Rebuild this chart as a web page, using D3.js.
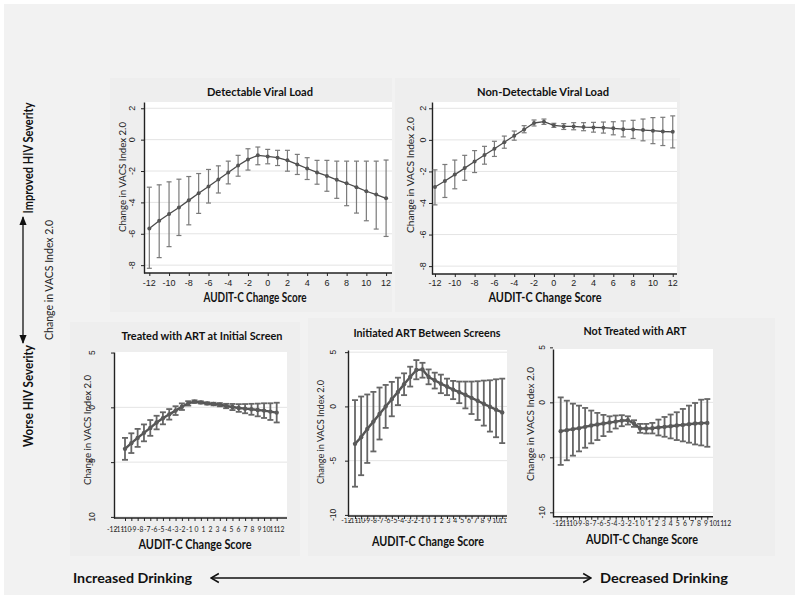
<!DOCTYPE html>
<html><head><meta charset="utf-8">
<script src="https://cdn.jsdelivr.net/npm/d3@7"></script>
<style>body{margin:0;background:#fff}svg{display:block}</style>
</head><body>
<svg id="c" width="800" height="603"></svg>
<script>
// ---------- DATA ----------
const scores = [-12,-11,-10,-9,-8,-7,-6,-5,-4,-3,-2,-1,0,1,2,3,4,5,6,7,8,9,10,11,12];
const topXTicks = [-12,-10,-8,-6,-4,-2,0,2,4,6,8,10,12];
const topYTicks = [2,0,-2,-4,-6,-8];
const bottomYTicks = [5,0,-5,-10];
const bottomYLabelsA = ["5","0","-5","10"];
const bottomYLabelsB = ["5","0","-5","-10"];
const bottomXLabels = ["-12","-11","-10","-9","-8","-7","-6","-5","-4","-3","-2","-1","0","1","2","3","4","5","6","7","8","9","10","11","12"];

// Detectable Viral Load
const detEst = [-5.66,-5.17,-4.74,-4.32,-3.87,-3.42,-2.99,-2.54,-2.09,-1.65,-1.26,-1.00,-1.07,-1.15,-1.32,-1.58,-1.84,-2.09,-2.31,-2.56,-2.78,-3.03,-3.29,-3.50,-3.74];
const detHi  = [-3.03,-2.88,-2.69,-2.52,-2.35,-2.16,-1.90,-1.67,-1.37,-1.00,-0.58,-0.47,-0.62,-0.68,-0.68,-0.94,-1.15,-1.32,-1.32,-1.37,-1.37,-1.37,-1.37,-1.37,-1.30];
const detLo  = [-8.20,-7.52,-6.82,-6.11,-5.43,-4.70,-4.04,-3.40,-2.82,-2.33,-1.94,-1.60,-1.54,-1.65,-2.01,-2.22,-2.54,-2.84,-3.29,-3.74,-4.21,-4.68,-5.17,-5.70,-6.17];
// Non-Detectable Viral Load
const ndEst = [-2.99,-2.61,-2.20,-1.79,-1.37,-0.96,-0.56,-0.15,0.26,0.66,1.07,1.15,0.92,0.85,0.85,0.81,0.79,0.77,0.73,0.68,0.66,0.62,0.58,0.53,0.51];
const ndHi  = [-1.90,-1.56,-1.28,-0.98,-0.68,-0.41,-0.09,0.24,0.56,0.90,1.26,1.32,1.05,1.03,1.09,1.09,1.11,1.13,1.15,1.20,1.24,1.32,1.41,1.43,1.52];
const ndLo  = [-4.12,-3.65,-3.10,-2.56,-2.07,-1.54,-1.05,-0.53,-0.02,0.45,0.88,0.98,0.79,0.66,0.64,0.58,0.49,0.43,0.32,0.19,0.09,-0.06,-0.24,-0.36,-0.51];
// Treated with ART at Initial Screen
const trEst = [-3.79,-3.27,-2.79,-2.33,-1.88,-1.39,-1.00,-0.64,-0.30,0.06,0.36,0.52,0.45,0.36,0.30,0.24,0.12,0.03,-0.06,-0.12,-0.18,-0.24,-0.30,-0.39,-0.48];
const trHi  = [-2.79,-2.37,-1.97,-1.56,-1.16,-0.77,-0.45,-0.16,0.10,0.36,0.56,0.64,0.55,0.46,0.42,0.39,0.32,0.31,0.29,0.30,0.32,0.34,0.37,0.37,0.42];
const trLo  = [-4.79,-4.17,-3.61,-3.10,-2.60,-2.01,-1.55,-1.12,-0.70,-0.24,0.16,0.40,0.35,0.26,0.18,0.09,-0.08,-0.25,-0.41,-0.54,-0.68,-0.82,-0.97,-1.15,-1.38];
// Initiated ART Between Screens
const inEst = [-3.45,-2.84,-2.07,-1.40,-0.70,0.00,0.67,1.34,2.04,2.71,3.35,3.41,2.71,2.41,2.10,1.83,1.55,1.31,1.07,0.79,0.52,0.24,-0.03,-0.30,-0.55];
const inHi  = [0.58,0.91,1.10,1.34,1.74,1.98,2.26,2.65,3.05,3.66,4.27,4.02,3.41,3.11,2.93,2.56,2.35,2.29,2.29,2.29,2.32,2.38,2.41,2.50,2.56];
const inLo  = [-7.40,-6.34,-5.21,-4.15,-3.05,-1.98,-0.91,0.12,1.04,1.83,2.50,2.65,2.04,1.65,1.22,1.04,0.67,0.30,-0.18,-0.70,-1.25,-1.77,-2.32,-2.84,-3.38];
// Not Treated with ART
const ntEst = [-2.62,-2.53,-2.44,-2.35,-2.23,-2.11,-2.02,-1.93,-1.84,-1.75,-1.66,-1.63,-1.93,-2.38,-2.38,-2.35,-2.29,-2.23,-2.17,-2.11,-2.05,-1.99,-1.93,-1.90,-1.87];
const ntHi  = [0.45,0.15,-0.12,-0.30,-0.51,-0.75,-0.96,-1.14,-1.27,-1.20,-1.17,-1.27,-1.63,-1.96,-1.96,-1.87,-1.57,-1.33,-1.11,-0.90,-0.60,-0.30,-0.06,0.24,0.30];
const ntLo  = [-5.69,-5.27,-4.85,-4.46,-4.13,-3.73,-3.43,-3.07,-2.68,-2.38,-2.17,-2.02,-2.23,-2.77,-2.83,-2.83,-3.01,-3.13,-3.28,-3.43,-3.55,-3.67,-3.83,-3.92,-4.04];

const yTitle = "Change in VACS Index 2.0";
const xTitle = "AUDIT-C Change Score";

// ---------- LAYOUT ----------
const F = "Lato, 'Open Sans', sans-serif";
const panels = [
  {kind:"top", title:"Detectable Viral Load", est:detEst, lo:detLo, hi:detHi,
   bg:[110,78,282,234], plot:[144,102,392,273], xDom:[-12.54,12.6], yDom:[-8.5,2.4],
   title_xy:[260,91,106], axt_xy:[255,297,103], ylab_xy:[122,177,110], tickX:132, tickLabY:283},
  {kind:"top", title:"Non-Detectable Viral Load", est:ndEst, lo:ndLo, hi:ndHi,
   bg:[395,78,285,234], plot:[432,102,677,274], xDom:[-12.3,12.43], yDom:[-8.5,2.4],
   title_xy:[543,91,132], axt_xy:[545,297,113], ylab_xy:[410,175,116], tickX:423, tickLabY:283},
  {kind:"bot", title:"Treated with ART at Initial Screen", est:trEst, lo:trLo, hi:trHi, ylabels:bottomYLabelsA,
   bg:[70,322,230,234], plot:[114,352,287,518], xPts:[125,276.7], xLab:[111.7,280], clip:null, yDom:[-10.1,5.05],
   title_xy:[202,335,161], axt_xy:[195,544,113], ylab_xy:[87,430,110], tickX:92, tickLabY:531},
  {kind:"bot", title:"Initiated ART Between Screens", est:inEst, lo:inLo, hi:inHi, ylabels:bottomYLabelsB,
   bg:[308,318,199,238], plot:[348,350,507,516], xPts:[355,502.2], xLab:[346,509.2], clip:507, yDom:[-10.1,5.2],
   title_xy:[427,332,147], axt_xy:[428,541,112], ylab_xy:[320,432,104], tickX:333, tickLabY:522},
  {kind:"bot", title:"Not Treated with ART", est:ntEst, lo:ntLo, hi:ntHi, ylabels:bottomYLabelsB,
   bg:[507,318,268,238], plot:[553,349,713,516.7], xPts:[560.7,707.3], xLab:[557.3,726.7], clip:null, yDom:[-10.4,4.85],
   title_xy:[635,330,103], axt_xy:[642,539,112], ylab_xy:[530,424,114], tickX:542, tickLabY:525}
];

const svg = d3.select("#c");
svg.append("rect").attr("x",4).attr("y",4).attr("width",791).attr("height",591).attr("fill","#f2f2f2");
const defs = svg.append("defs");

function txt(g, s, x, y, opts) {
  const t = g.append("text").attr("x",x).attr("y",y).text(s)
    .attr("font-family", opts.family || F).attr("font-size", opts.size)
    .attr("font-weight", opts.weight || "normal").attr("fill", opts.fill || "#111")
    .attr("text-anchor", opts.anchor || "middle").attr("dominant-baseline","central");
  if (opts.rot) t.attr("transform", `rotate(${opts.rot},${x},${y})`);
  if (opts.len) t.attr("textLength", opts.len).attr("lengthAdjust","spacingAndGlyphs");
  return t;
}

panels.forEach((p, pi) => {
  const g = svg.append("g");
  const [bx,by,bw,bh] = p.bg;
  g.append("rect").attr("x",bx).attr("y",by).attr("width",bw).attr("height",bh).attr("fill","#eeeeee");
  const [x0,y0,x1,y1] = p.plot;
  g.append("rect").attr("x",x0).attr("y",y0).attr("width",x1-x0).attr("height",y1-y0).attr("fill","#fff");

  const y = d3.scaleLinear().domain(p.yDom).range([y1,y0]);
  const x = p.kind === "top"
    ? d3.scaleLinear().domain(p.xDom).range([x0,x1])
    : d3.scaleLinear().domain([scores[0], scores[scores.length-1]]).range(p.xPts);
  const yt = p.kind === "top" ? topYTicks : bottomYTicks;
  // gridlines
  g.append("g").selectAll("line").data(yt.filter(v => y(v) > y0+1 && y(v) < y1-1)).join("line")
    .attr("x1",x0).attr("x2",x1).attr("y1",d=>y(d)).attr("y2",d=>y(d))
    .attr("stroke","#e4e4e4").attr("stroke-width",1);

  // y axis
  const ya = g.append("g").attr("transform",`translate(${x0},0)`)
    .call(d3.axisLeft(y).tickValues(yt).tickSize(3).tickSizeOuter(0).tickFormat(""));
  ya.select(".domain").attr("stroke","#222").attr("stroke-width",1.4);
  ya.selectAll(".tick line").attr("stroke","#222");
  // x axis
  const xa = g.append("g").attr("transform",`translate(0,${y1})`)
    .call(d3.axisBottom(x).tickValues(p.kind==="top" ? topXTicks : scores).tickSize(3).tickSizeOuter(0).tickFormat(""));
  xa.select(".domain").attr("stroke","#222").attr("stroke-width",1.4)
    .attr("d", `M${x0},0H${x1}`);
  xa.selectAll(".tick line").attr("stroke","#222");

  // y tick labels (rotated)
  yt.forEach((v,i) => {
    const lab = p.kind === "top" ? String(v) : p.ylabels[i];
    txt(g, lab, p.tickX, y(v), {size: p.kind==="top"?9:8.5, family:"'Liberation Sans', Arial, sans-serif", rot:-90, fill:"#222"});
  });
  // x tick labels
  if (p.kind === "top") {
    topXTicks.forEach(v => txt(g, String(v), x(v), p.tickLabY, {size:9, family:"'Liberation Sans', Arial, sans-serif", fill:"#222"}));
  } else {
    const xl = d3.scaleLinear().domain([scores[0], scores[scores.length-1]]).range(p.xLab);
    const la = g.append("g").attr("transform",`translate(0,${p.tickLabY-4})`)
      .call(d3.axisBottom(xl).tickValues(scores).tickSize(0).tickPadding(0).tickFormat((d,i)=>bottomXLabels[i]));
    la.select(".domain").remove();
    la.selectAll("text").attr("font-family",F).attr("font-size",6.8).attr("fill","#222");
    if (p.clip) {
      const id = "clip" + pi;
      defs.append("clipPath").attr("id", id).append("rect")
        .attr("x", bx).attr("y", 0).attr("width", p.clip - bx).attr("height", 603);
      la.attr("clip-path", `url(#${id})`);
    }
  }

  // titles
  txt(g, p.title, p.title_xy[0], p.title_xy[1], {size:11, weight:"bold", len:p.title_xy[2]});
  txt(g, xTitle, p.axt_xy[0], p.axt_xy[1], {size:12.5, weight:"bold", len:p.axt_xy[2]});
  txt(g, yTitle, p.ylab_xy[0], p.ylab_xy[1], {size:10, rot:-90, len:p.ylab_xy[2], fill:"#222"});

  // error bars
  const isTop = p.kind === "top";
  const cap = isTop ? 2.5 : 3;
  const ebCol = isTop ? "#7a7a7a" : "#666";
  const ebW = isTop ? 1.2 : 1.8;
  const eb = g.append("g").attr("stroke",ebCol).attr("stroke-width",ebW).attr("fill","none");
  scores.forEach((s,i) => {
    const cx = x(s), yh = y(p.hi[i]), ylo = y(p.lo[i]);
    eb.append("line").attr("x1",cx).attr("x2",cx).attr("y1",yh).attr("y2",ylo);
    eb.append("line").attr("x1",cx-cap).attr("x2",cx+cap).attr("y1",yh).attr("y2",yh);
    eb.append("line").attr("x1",cx-cap).attr("x2",cx+cap).attr("y1",ylo).attr("y2",ylo);
  });
  // line
  const line = d3.line().x((d,i)=>x(scores[i])).y(d=>y(d));
  g.append("path").datum(p.est).attr("d",line).attr("fill","none")
    .attr("stroke", isTop ? "#4a4a4a" : "#555").attr("stroke-width", isTop ? 1.3 : 2.4);
  g.append("g").selectAll("circle").data(p.est).join("circle")
    .attr("cx",(d,i)=>x(scores[i])).attr("cy",d=>y(d)).attr("r", isTop ? 2 : 2.2)
    .attr("fill", isTop ? "#555" : "#5a5a5a");
});

// ---------- outer annotations ----------
txt(svg, "Improved HIV Severity", 28, 158, {size:13.5, weight:"bold", rot:-90, len:111});
txt(svg, "Worse HIV  Severity", 28, 396, {size:13.5, weight:"bold", rot:-90, len:102});
txt(svg, "Change in  VACS Index  2.0", 48, 280, {size:11, rot:-90, len:120, fill:"#222"});
txt(svg, "Increased Drinking", 132.5, 578, {size:13.5, weight:"bold", len:119});
txt(svg, "Decreased Drinking", 664, 578, {size:13.5, weight:"bold", len:128});

defs.append("marker").attr("id","tri").attr("viewBox","0 0 10 10").attr("refX",9).attr("refY",5)
  .attr("markerWidth",7).attr("markerHeight",7).attr("orient","auto-start-reverse")
  .append("path").attr("d","M0,1L10,5L0,9Z").attr("fill","#111");
defs.append("marker").attr("id","chev").attr("viewBox","0 0 10 10").attr("refX",9).attr("refY",5)
  .attr("markerWidth",8).attr("markerHeight",8).attr("orient","auto-start-reverse")
  .append("path").attr("d","M2,1L9,5L2,9").attr("fill","none").attr("stroke","#111").attr("stroke-width",1.4);

svg.append("line").attr("x1",23).attr("x2",23).attr("y1",217).attr("y2",343)
  .attr("stroke","#111").attr("stroke-width",1.3)
  .attr("marker-start","url(#tri)").attr("marker-end","url(#tri)");
svg.append("line").attr("x1",211).attr("x2",591).attr("y1",578).attr("y2",578)
  .attr("stroke","#111").attr("stroke-width",1.4)
  .attr("marker-start","url(#chev)").attr("marker-end","url(#chev)");
</script>
</body></html>
